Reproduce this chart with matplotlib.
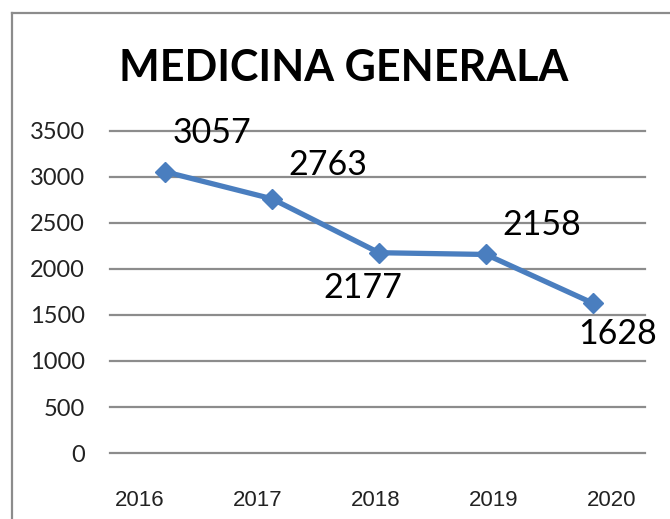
import numpy as np
import matplotlib
matplotlib.use('Agg')
import matplotlib.pyplot as plt
from matplotlib.lines import Line2D

# data
years = np.array([2016, 2017, 2018, 2019, 2020])
patients = np.array([3057, 2763, 2177, 2158, 1628])
year_labels = ['2016', '2017', '2018', '2019', '2020']
yticks = np.arange(0, 3501, 500)

# data label offsets in pixels (dx, dy)
label_offsets = [(47, 39), (56, 34), (-16, -35), (56, 29), (25, -31)]

W, H = 670, 519
LINE_COLOR = '#4A7EBF'
GRID_COLOR = '#8C8C8C'

fig = plt.figure(figsize=(W / 100, H / 100), dpi=100)
ax = fig.add_axes([110 / W, 1 - 453 / H, 535 / W, (453 - 131) / H])

ax.plot(years, patients, color=LINE_COLOR, linewidth=3.8, marker='D',
        markersize=10, markeredgecolor=LINE_COLOR, zorder=3)

for x, y, (dx, dy) in zip(years, patients, label_offsets):
    ax.annotate(str(y), (x, y), xytext=(dx, dy), textcoords='offset pixels',
                ha='center', va='center', fontsize=24.5, family='Lato', color='black')

px_per_year = 107
ax.set_xlim(2016 - 55 / px_per_year, 2020 + 52 / px_per_year)
ax.set_ylim(0, 3500)

# category labels sit slightly off the point positions in the original
tick_pos = 2015.766 + (years - 2016) * 1.103
ax.set_xticks(tick_pos)
ax.set_xticklabels(year_labels, family='Liberation Sans', fontsize=16)
ax.set_yticks(yticks)
ax.set_yticklabels([str(v) for v in yticks], family='Lato', fontsize=17)
ax.tick_params(axis='both', length=0, colors='#222222')
ax.tick_params(axis='x', pad=27)
ax.tick_params(axis='y', pad=18)

ax.grid(axis='y', color=GRID_COLOR, linewidth=1.6)
ax.grid(axis='x', visible=False)
ax.set_axisbelow(True)
for sp in ax.spines.values():
    sp.set_visible(False)
for gl in ax.get_ygridlines():
    gl.set_clip_on(False)

fig.text(344 / W, 1 - 68 / H, 'MEDICINA GENERALA', ha='center', va='center',
         fontsize=31, fontweight='bold', family='Lato')

# outer chart frame (top and left edges visible)
fig.add_artist(Line2D([12 / W, 1], [1 - 13 / H, 1 - 13 / H], color=GRID_COLOR, linewidth=1.6))
fig.add_artist(Line2D([12 / W, 12 / W], [0, 1 - 13 / H], color=GRID_COLOR, linewidth=1.6))

fig.savefig('out.png', dpi=100, facecolor='white')
